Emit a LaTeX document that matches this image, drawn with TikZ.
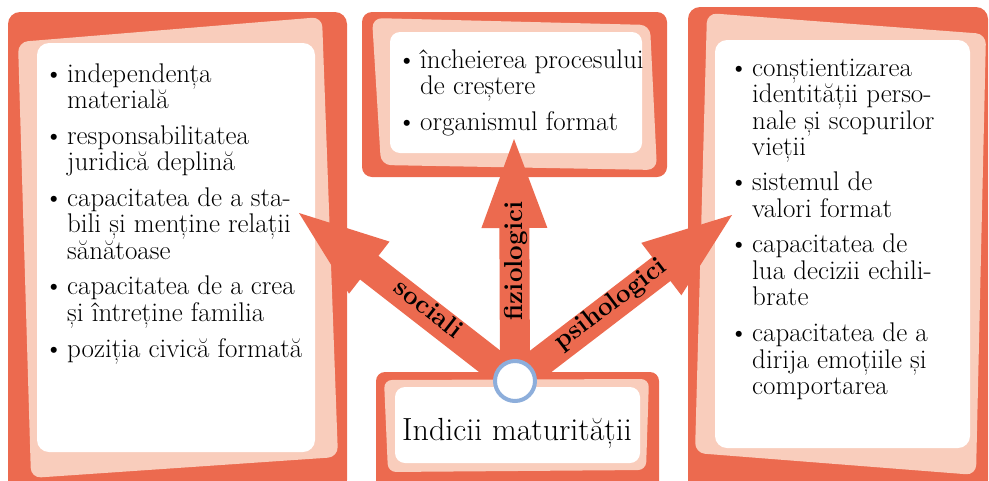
\documentclass[tikz,border=0pt]{standalone}
\usetikzlibrary{calc}
\definecolor{orng}{RGB}{236,106,79}
\definecolor{pnk}{RGB}{249,205,188}
\definecolor{ringblue}{RGB}{141,174,219}
\tikzset{
  outerbox/.style={fill=orng, rounded corners=12pt},
  innerband/.style={fill=pnk, rounded corners=10pt},
  whitebox/.style={fill=white, rounded corners=12pt},
  listtext/.style={anchor=base west, inner sep=0pt, font=\fontsize{27}{26}\selectfont},
  armlabel/.style={font=\bfseries\fontsize{26}{26}\selectfont, inner sep=0pt},
}
\newcommand\bl{\makebox[23pt][l]{\textbullet}}
\newcommand\drawarm[2]{%
  \coordinate (armbase) at ($(#2)!89pt!(#1)$);
  \fill[orng] ($(#1)!15pt!-90:(#2)$) -- ($(armbase)!15pt!-90:(#2)$)
     -- ($(armbase)!33pt!-90:(#2)$) -- (#2) -- ($(armbase)!33pt!90:(#2)$)
     -- ($(armbase)!15pt!90:(#2)$) -- ($(#1)!15pt!90:(#2)$) -- cycle;
}
\begin{document}
\begin{tikzpicture}[x=1pt,y=-1pt]
\useasboundingbox (0,0) rectangle (989,480);
\clip (0,0) rectangle (989,480);

% left panel
\fill[outerbox] (8,12) rectangle (347,492);
\fill[innerband] (18,42) -- (322,17) -- (338,457) -- (31,478) -- cycle;
\fill[whitebox] (37,43) rectangle (315,452);

% top panel
\fill[outerbox, rounded corners=10pt] (362,12) rectangle (667,177);
\fill[innerband] (372,18) -- (650,25) -- (657,170) -- (381,165) -- cycle;
\fill[whitebox, rounded corners=10pt] (390,32) rectangle (642,153);

% right panel
\fill[outerbox] (688,7) rectangle (988,492);
\fill[innerband] (707,13) -- (986,34) -- (976,475) -- (695,453) -- cycle;
\fill[whitebox] (715,40) rectangle (970,448);

% lists
\node[listtext] (leftlist) at (44,82) {\begin{tabular}[t]{@{}l@{}l@{}}
\bl & independența\\
    & materială\\[9pt]
\bl & responsabilitatea\\
    & juridică deplină\\[9pt]
\bl & capacitatea de a sta-\\
    & bili și menține relații\\
    & sănătoase\\[9pt]
\bl & capacitatea de a crea\\
    & și întreține familia\\[9pt]
\bl & poziția civică formată
\end{tabular}};

\node[listtext] (toplist) at (397,68) {\begin{tabular}[t]{@{}l@{}l@{}}
\bl & încheierea procesului\\
    & de creștere\\[9pt]
\bl & organismul format
\end{tabular}};

\node[listtext] (rightlist) at (729,76) {\begin{tabular}[t]{@{}l@{}l@{}}
\bl & conștientizarea\\
    & identității perso-\\
    & nale și scopurilor\\
    & vieții\\[9pt]
\bl & sistemul de\\
    & valori format\\[9pt]
\bl & capacitatea de\\
    & lua decizii echili-\\
    & brate\\[9pt]
\bl & capacitatea de a\\
    & dirija emoțiile și\\
    & comportarea
\end{tabular}};

% arms
\coordinate (hub) at (515,381);
\coordinate (tipsoc) at (299,213);
\coordinate (tipfiz) at (514,139);
\coordinate (tippsi) at (732,215);
\drawarm{hub}{tipsoc}
\drawarm{hub}{tipfiz}
\drawarm{hub}{tippsi}

\node[armlabel, rotate=-37.9] (lblsoc) at (429,308) {sociali};
\node[armlabel, rotate=90] (lblfiz) at (516,261) {fiziologici};
\node[armlabel, rotate=37.4] (lblpsi) at (611,305) {psihologici};

% bottom centre box
\fill[outerbox, rounded corners=9pt] (376,372) rectangle (659,492);
\fill[innerband, rounded corners=8pt] (384,380) -- (649,379) -- (646,470) -- (388,472) -- cycle;
\fill[whitebox, rounded corners=10pt] (395,387) rectangle (640,463);
\node[font=\fontsize{32}{32}\selectfont, anchor=base, inner sep=0pt] (title) at (517,440) {Indicii maturității};

\node[circle, draw=ringblue, line width=4pt, fill=white, minimum size=40pt, inner sep=0pt] (ring) at (hub) {};
\end{tikzpicture}
\end{document}
